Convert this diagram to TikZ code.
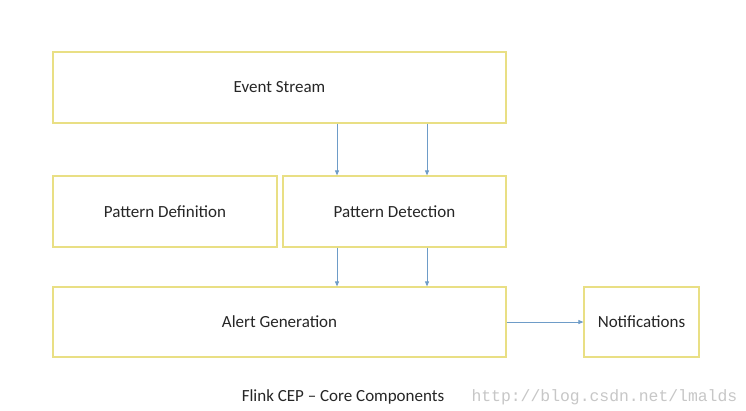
\documentclass[tikz,border=0pt]{standalone}
\usepackage{fontspec}
\setmainfont{Carlito}
\newfontfamily\wmfont{Liberation Mono}
\usetikzlibrary{arrows.meta}
\definecolor{boxline}{HTML}{E9DF84}
\definecolor{arrowc}{HTML}{6E9CC8}
\definecolor{txt}{HTML}{262626}
\begin{document}
\begin{tikzpicture}[x=1pt,y=-1pt,
  box/.style={draw=boxline,line width=1.2pt,fill=white,text=txt,font=\fontsize{17}{20}\selectfont},
  conn/.style={draw=arrowc,line width=0.8pt,-{Triangle[length=5pt,width=4pt]}}]
\useasboundingbox (0,0) rectangle (746,410);
\fill[white] (0,0) rectangle (746,410);
\node[box,minimum width=453pt,minimum height=71pt] (es) at (279.5,87.5) {Event Stream};
\node[box,minimum width=224pt,minimum height=71pt] (pdef) at (165,211.5) {Pattern Definition};
\node[box,minimum width=223pt,minimum height=71pt] (pdet) at (394.5,211.5) {Pattern Detection};
\node[box,minimum width=453pt,minimum height=70pt] (ag) at (279.5,322) {Alert Generation};
\node[box,minimum width=115pt,minimum height=70pt] (nt) at (641.5,322) {Notifications};
\draw[conn] (es.south -| 337,0) -- (pdet.north -| 337,0);
\draw[conn] (es.south -| 427,0) -- (pdet.north -| 427,0);
\draw[conn] (pdet.south -| 337,0) -- (ag.north -| 337,0);
\draw[conn] (pdet.south -| 427,0) -- (ag.north -| 427,0);
\draw[conn] (ag.east) -- (nt.west);
\node[text=txt,font=\fontsize{17}{20}\selectfont] (cap) at (343,397) {Flink CEP – Core Components};
\node[text=black!22,font=\wmfont\fontsize{16.4}{19}\selectfont,anchor=west] (wm) at (468,397) {http://blog.csdn.net/lmalds};
\end{tikzpicture}
\end{document}
